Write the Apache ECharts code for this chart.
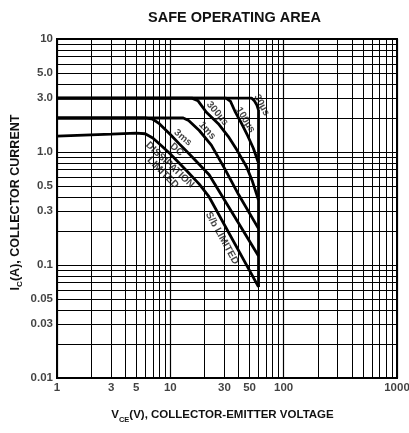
<!DOCTYPE html>
<html><head><meta charset="utf-8">
<script src="https://cdn.jsdelivr.net/npm/echarts@6/dist/echarts.min.js"></script>
<style>html,body{margin:0;padding:0;background:#fff}#c{width:409px;height:433px}</style>
</head><body><div id="c"></div>
<script>
// ---- data ----
const xMin = 1, xMax = 1000, yMin = 0.01, yMax = 10;
const xTickValues = [1, 3, 5, 10, 30, 50, 100, 1000];
const xTickLabels = ['1', '3', '5', '10', '30', '50', '100', '1000'];
const yTickValues = [10, 5, 3, 1, 0.5, 0.3, 0.1, 0.05, 0.03, 0.01];
const yTickLabels = ['10', '5.0', '3.0', '1.0', '0.5', '0.3', '0.1', '0.05', '0.03', '0.01'];
const xGridValues = [2, 3, 4, 5, 6, 7, 8, 9, 20, 30, 40, 50, 60, 70, 80, 90, 200, 300, 400, 500, 600, 700, 800, 900];
const yGridValues = [0.02, 0.03, 0.04, 0.05, 0.06, 0.07, 0.08, 0.09, 0.2, 0.3, 0.4, 0.5, 0.6, 0.7, 0.8, 0.9, 2, 3, 4, 5, 6, 7, 8, 9];

const curve30us = [[1, 3], [52, 3], [55, 2.85], [58, 2.6], [60, 2.35]];
const curve100us = [[1, 3], [31, 3], [34, 2.8], [37.5, 2.25], [43, 1.75], [48, 1.4], [54, 1.08], [60, 0.8]];
const curve300us = [[1, 3], [15.5, 3], [17.5, 2.85], [20.8, 2.25], [26.5, 1.78], [32.5, 1.37], [38.7, 1.04], [47, 0.74], [53, 0.55], [60, 0.376]];
const curve1ms = [[1, 2], [13, 2], [14.5, 1.9], [18, 1.55], [23, 1.15], [30, 0.72], [40, 0.42], [60, 0.21]];
const curve3ms = [[1, 2], [6, 2], [7, 1.95], [8, 1.78], [10, 1.43], [12, 1.18], [15, 0.94], [22, 0.63], [60, 0.12]];
const curveDC = [[1, 1.38], [3, 1.44], [5, 1.47], [6, 1.45], [7, 1.33], [8.4, 1.13], [10, 0.96], [14, 0.68], [18, 0.52], [22, 0.4], [60, 0.064]];
const voltageLimit = [[60, 2.35], [60, 0.064]];

const noteTexts = ['30µs', '100µs', '300µs', '1ms', '3ms', 'DC', 'DISSIPATION', 'LIMITED', 'S/b LIMITED'];
const noteAnchors = [[64, 2.6], [46, 1.92], [26, 2.19], [21.2, 1.55], [12.9, 1.34], [11.4, 1.05], [9.9, 0.77], [8.6, 0.655], [28.6, 0.173]];
const noteAngles = [-62, -58, -50, -48, -40, -40, -43, -45, -61];

// ---- chart ----
const FONT = '"Liberation Sans", Arial, sans-serif';
const INK = '#111';
const chart = echarts.init(document.getElementById('c'), null, {renderer: 'canvas'});

const curveStyle = {color: '#000', width: 2.8};
function curve(name, data) {
  return {type: 'line', name: name, data: data, showSymbol: false, symbol: 'none',
    lineStyle: curveStyle, z: 5, silent: true};
}
const gridLines = xGridValues.map(v => ({coords: [[v, yMin], [v, yMax]]}))
  .concat(yGridValues.map(v => ({coords: [[xMin, v], [xMax, v]]})));

const labelBase = {show: true, color: INK, fontSize: 11.5, fontWeight: 'bold', fontFamily: FONT};
function nameRich(size) {
  return {
    m: {fontSize: size, fontWeight: 'bold', color: INK, fontFamily: FONT, lineHeight: 15, verticalAlign: 'bottom'},
    s: {fontSize: size * 0.65, fontWeight: 'bold', color: INK, fontFamily: FONT, lineHeight: 15, verticalAlign: 'bottom', padding: [0, 0, -2, 0]}
  };
}

chart.setOption({
  animation: false,
  backgroundColor: '#fff',
  title: {text: 'SAFE OPERATING AREA', left: 143, top: 5,
    textStyle: {fontSize: 14.5, fontWeight: 'bold', color: INK, fontFamily: FONT}},
  grid: {left: 57, right: 12, top: 39, bottom: 55, show: true, borderColor: '#000', borderWidth: 2, backgroundColor: 'transparent'},
  xAxis: {type: 'log', logBase: 10, min: xMin, max: xMax,
    axisLine: {show: false}, axisTick: {show: false}, axisLabel: {show: false},
    splitLine: {show: true, lineStyle: {color: '#000', width: 1.2}},
    name: '{m|V}{s|CE}{m|(V), COLLECTOR-EMITTER VOLTAGE}', nameLocation: 'middle', nameGap: 28,
    nameTextStyle: {rich: nameRich(11.5), padding: [0, 9, 0, 0]}},
  yAxis: {type: 'log', logBase: 10, min: yMin, max: yMax,
    axisLine: {show: false}, axisTick: {show: false}, axisLabel: {show: false},
    splitLine: {show: true, lineStyle: {color: '#000', width: 1.2}},
    name: '{m|I}{s|C}{m|(A), COLLECTOR CURRENT}', nameLocation: 'middle', nameGap: 35,
    nameTextStyle: {rich: nameRich(12.5), padding: [0, 0, 0, 12]}},
  series: [
    {type: 'lines', coordinateSystem: 'cartesian2d', data: gridLines, silent: true, z: 1,
      lineStyle: {color: '#000', width: 1, opacity: 1}},
    curve('30µs', curve30us),
    curve('100µs', curve100us),
    curve('300µs', curve300us),
    curve('1ms', curve1ms),
    curve('3ms', curve3ms),
    curve('DC', curveDC),
    curve('VCEO', voltageLimit),
    {type: 'scatter', name: 'xTicks', symbol: 'circle', symbolSize: 0, clip: false, silent: true, z: 10,
      data: xTickValues.map((v, i) => ({value: [v, yMin], label: {formatter: xTickLabels[i]}})),
      label: Object.assign({position: 'bottom', distance: 4}, labelBase)},
    {type: 'scatter', name: 'yTicks', symbol: 'circle', symbolSize: 0, clip: false, silent: true, z: 10,
      data: yTickValues.map((v, i) => ({value: [xMin, v], label: {formatter: yTickLabels[i]}})),
      label: Object.assign({position: 'left', distance: 4}, labelBase)},
    {type: 'scatter', name: 'notes', symbol: 'circle', symbolSize: 0, clip: false, silent: true, z: 10,
      data: noteTexts.map((t, i) => ({value: noteAnchors[i], label: {formatter: t, rotate: noteAngles[i]}})),
      label: Object.assign({position: 'inside', align: 'center', verticalAlign: 'middle'}, labelBase, {fontSize: 10})}
  ]
});
</script>
</body></html>
